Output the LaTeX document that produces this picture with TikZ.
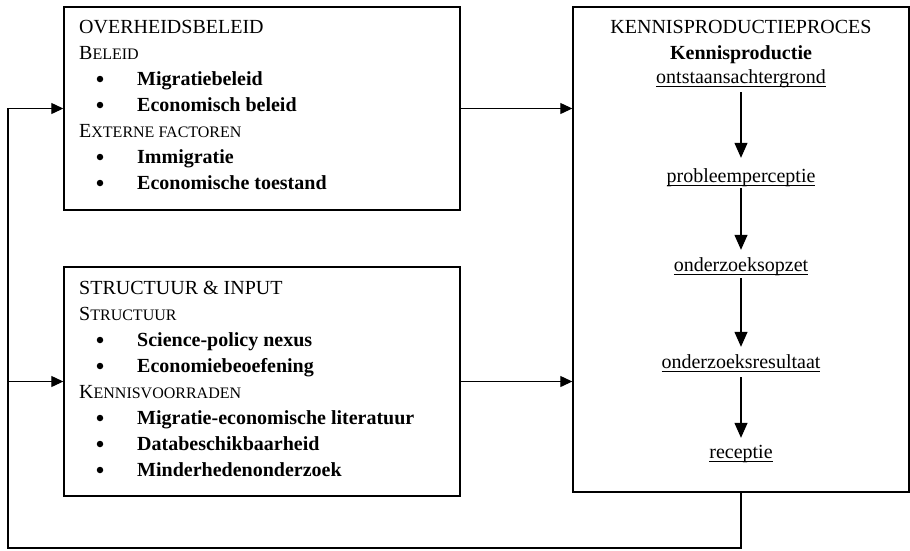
\documentclass[tikz,border=0pt]{standalone}
\usepackage{fontspec}
\setmainfont{Liberation Serif}
\usetikzlibrary{arrows.meta}
\newcommand\smc[2]{#1{\fontsize{16}{16}\selectfont #2}}
\newcommand\myul[1]{\setbox0\hbox{#1}\rlap{\rule[-3.5pt]{\wd0}{0.9pt}}\box0}
\begin{document}
\begin{tikzpicture}[x=1pt,y=-1pt,
  box/.style={draw, line width=1.4pt, inner sep=0pt, rectangle},
  txt/.style={anchor=base west, inner sep=0pt, font=\fontsize{20}{24}\selectfont},
  item/.style={anchor=base west, inner sep=0pt, font=\fontsize{20}{24}\selectfont\bfseries},
  dot/.style={circle, fill, inner sep=0pt, minimum size=6.5pt},
  ctr/.style={anchor=base, inner sep=0pt, font=\fontsize{20}{24}\selectfont, text height=14pt, text depth=4.5pt},
  harrow/.style={line width=1.2pt, -{Triangle[length=12pt,width=11pt]}},
  varrow/.style={line width=1.2pt, -{Triangle[length=15pt,width=13pt]}}]
\useasboundingbox (0,0) rectangle (910,550);
% boxes
\node[box, minimum width=396pt, minimum height=203pt] (b1) at (262,108.5) {};
\node[box, minimum width=396pt, minimum height=229pt] (b2) at (262,381.5) {};
\node[box, minimum width=336pt, minimum height=485pt] (b3) at (741,249.5) {};
% box 1
\node[txt] (o1) at (79,33) {OVERHEIDSBELEID};
\node[txt] (o2) at (79,59) {\smc{B}{ELEID}};
\node[dot] (o3b) at (100,79) {};
\node[item] (o3) at (137,85) {Migratiebeleid};
\node[dot] (o4b) at (100,105) {};
\node[item] (o4) at (137,111) {Economisch beleid};
\node[txt] (o5) at (79,137) {\smc{E}{XTERNE FACTOREN}};
\node[dot] (o6b) at (100,157) {};
\node[item] (o6) at (137,163) {Immigratie};
\node[dot] (o7b) at (100,183) {};
\node[item] (o7) at (137,189) {Economische toestand};
% box 2
\node[txt] (s1) at (79,294) {STRUCTUUR \& INPUT};
\node[txt] (s2) at (79,320) {\smc{S}{TRUCTUUR}};
\node[dot] (s3b) at (100,340) {};
\node[item] (s3) at (137,346) {Science-policy nexus};
\node[dot] (s4b) at (100,366) {};
\node[item] (s4) at (137,372) {Economiebeoefening};
\node[txt] (s5) at (79,398) {\smc{K}{ENNISVOORRADEN}};
\node[dot] (s6b) at (100,418) {};
\node[item] (s6) at (137,424) {Migratie-economische literatuur};
\node[dot] (s7b) at (100,444) {};
\node[item] (s7) at (137,450) {Databeschikbaarheid};
\node[dot] (s8b) at (100,470) {};
\node[item] (s8) at (137,476) {Minderhedenonderzoek};
% box 3
\node[ctr] (k1) at (741,33) {KENNISPRODUCTIEPROCES};
\node[ctr] (k2) at (741,59) {\bfseries Kennisproductie};
\node[ctr] (k3) at (741,83) {\myul{ontstaansachtergrond}};
\node[ctr] (k4) at (741,182) {\myul{probleemperceptie}};
\node[ctr] (k5) at (741,271) {\myul{onderzoeksopzet}};
\node[ctr] (k6) at (741,368) {\myul{onderzoeksresultaat}};
\node[ctr] (k7) at (741,458) {\myul{receptie}};
\draw[varrow, shorten <=4.5pt, shorten >=10pt] (k3.south) -- (k4.north);
\draw[varrow, shorten <=1.5pt, shorten >=7pt] (k4.south) -- (k5.north);
\draw[varrow, shorten <=2.5pt, shorten >=7pt] (k5.south) -- (k6.north);
\draw[varrow, shorten <=4.5pt, shorten >=6pt] (k6.south) -- (k7.north);
% connectors
\draw[harrow] (b1.east) -- (b1.east -| b3.west);
\draw[harrow] (b2.east) -- (b2.east -| b3.west);
\coordinate (c1) at (8,548);
\draw[harrow] (b3.south) |- (c1) |- (b1.west);
\draw[harrow] (c1 |- b2.west) -- (b2.west);
\end{tikzpicture}
\end{document}
